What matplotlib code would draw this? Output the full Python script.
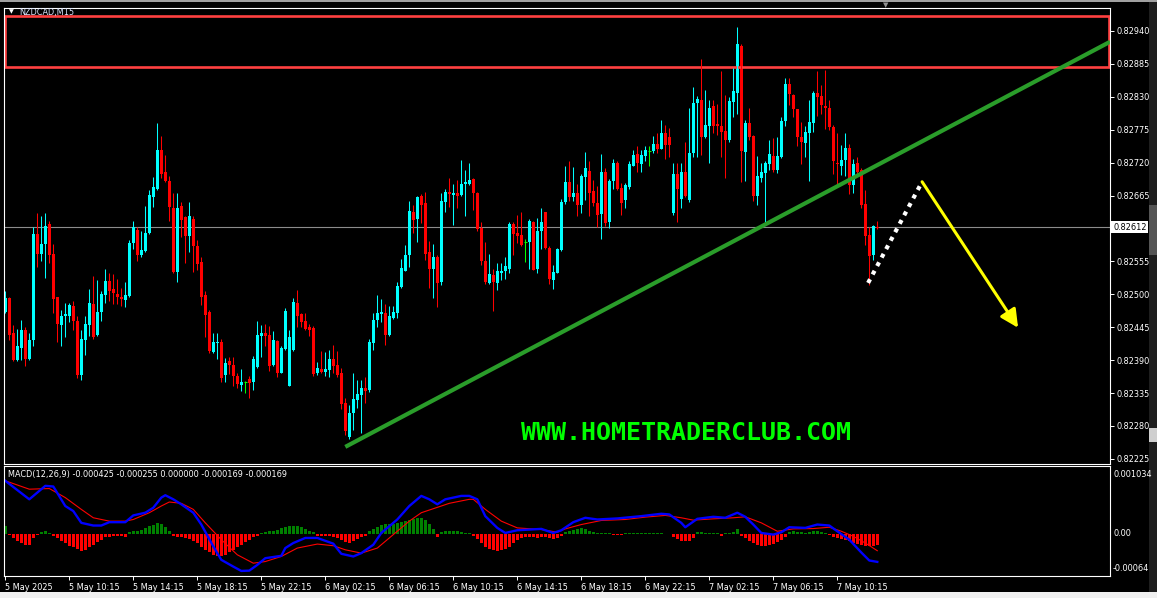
import numpy as np
import matplotlib
matplotlib.use('Agg')
import matplotlib.pyplot as plt
from matplotlib.patches import Rectangle

plt.rcParams['font.family'] = ['DejaVu Sans']

# NZDCAD M15 candles, prices in points (1 point = 0.00001)
open_pts = [
    82470, 82494, 82435, 82391, 82410, 82441, 82392, 82424, 82601, 82568,
    82584, 82618, 82568, 82495, 82449, 82463, 82463, 82481, 82456, 82365,
    82424, 82449, 82484, 82432, 82470, 82499, 82523, 82509, 82501, 82496,
    82491, 82497, 82585, 82608, 82566, 82572, 82602, 82663, 82676, 82741,
    82705, 82690, 82645, 82538, 82647, 82629, 82598, 82626, 82581, 82554,
    82499, 82470, 82404, 82418, 82421, 82365, 82388, 82381, 82364, 82348,
    82353, 82358, 82353, 82379, 82430, 82435, 82432, 82381, 82422, 82369,
    82408, 82347, 82407, 82485, 82467, 82455, 82446, 82444, 82369, 82375,
    82370, 82374, 82392, 82382, 82369, 82319, 82262, 82302, 82324, 82332,
    82344, 82340, 82418, 82457, 82467, 82468, 82432, 82460, 82469, 82513,
    82539, 82566, 82638, 82626, 82664, 82653, 82570, 82542, 82563, 82521,
    82655, 82671, 82666, 82670, 82666, 82684, 82684, 82692, 82670, 82611,
    82556, 82519, 82532, 82519, 82536, 82539, 82542, 82617, 82602, 82599,
    82587, 82588, 82621, 82542, 82605, 82637, 82578, 82524, 82536, 82574,
    82655, 82687, 82663, 82669, 82650, 82696, 82706, 82672, 82652, 82634,
    82705, 82620, 82689, 82720, 82677, 82657, 82679, 82715, 82734, 82718,
    82731, 82740, 82740, 82751, 82743, 82769, 82763, 82636, 82701, 82659,
    82704, 82657, 82736, 82819, 82825, 82763, 82781, 82815, 82785, 82781,
    82773, 82758, 82822, 82837, 82915, 82738, 82787, 82765, 82664, 82695,
    82703, 82718, 82731, 82707, 82730, 82790, 82851, 82833, 82809, 82762,
    82753, 82769, 82787, 82836, 82831, 82815, 82812, 82779, 82720, 82714,
    82724, 82745, 82683, 82719, 82707, 82651, 82599, 82566, 82612]
high_pts = [
    82505, 82496, 82449, 82442, 82457, 82445, 82435, 82612, 82636, 82630,
    82635, 82623, 82584, 82496, 82474, 82485, 82486, 82489, 82464, 82440,
    82464, 82508, 82531, 82524, 82505, 82543, 82535, 82534, 82526, 82511,
    82521, 82591, 82623, 82613, 82606, 82647, 82675, 82696, 82787, 82764,
    82733, 82698, 82670, 82670, 82655, 82631, 82655, 82630, 82590, 82563,
    82505, 82474, 82436, 82436, 82425, 82393, 82396, 82396, 82369, 82375,
    82355, 82363, 82397, 82455, 82449, 82451, 82447, 82439, 82424, 82413,
    82477, 82441, 82493, 82507, 82469, 82469, 82450, 82447, 82387, 82406,
    82403, 82407, 82415, 82406, 82376, 82326, 82315, 82368, 82357, 82357,
    82361, 82425, 82468, 82499, 82492, 82484, 82480, 82480, 82520, 82559,
    82582, 82656, 82649, 82665, 82667, 82671, 82589, 82584, 82565, 82669,
    82676, 82695, 82685, 82691, 82724, 82708, 82720, 82695, 82671, 82621,
    82588, 82567, 82543, 82552, 82552, 82562, 82620, 82621, 82632, 82638,
    82593, 82626, 82623, 82627, 82644, 82638, 82580, 82549, 82577, 82660,
    82714, 82722, 82713, 82685, 82701, 82737, 82722, 82691, 82681, 82735,
    82711, 82692, 82726, 82722, 82686, 82686, 82722, 82741, 82747, 82741,
    82747, 82748, 82764, 82769, 82792, 82783, 82778, 82719, 82719, 82720,
    82755, 82811, 82847, 82831, 82893, 82841, 82824, 82825, 82818, 82873,
    82833, 82829, 82878, 82946, 82918, 82791, 82812, 82767, 82731, 82719,
    82722, 82757, 82761, 82762, 82797, 82861, 82861, 82835, 82810, 82788,
    82781, 82825, 82840, 82873, 82850, 82875, 82824, 82783, 82769, 82749,
    82769, 82751, 82726, 82729, 82711, 82675, 82612, 82616, 82623]
low_pts = [
    82469, 82424, 82388, 82389, 82391, 82380, 82391, 82413, 82545, 82555,
    82528, 82552, 82469, 82420, 82414, 82428, 82453, 82440, 82360, 82356,
    82399, 82431, 82426, 82430, 82455, 82485, 82488, 82484, 82484, 82480,
    82479, 82495, 82575, 82555, 82563, 82570, 82600, 82646, 82675, 82695,
    82688, 82623, 82536, 82521, 82596, 82552, 82570, 82538, 82541, 82482,
    82428, 82402, 82402, 82392, 82353, 82354, 82367, 82347, 82343, 82338,
    82335, 82326, 82340, 82377, 82396, 82413, 82371, 82380, 82362, 82368,
    82407, 82347, 82406, 82446, 82445, 82440, 82430, 82364, 82365, 82368,
    82364, 82362, 82368, 82362, 82309, 82265, 82259, 82273, 82310, 82269,
    82319, 82337, 82407, 82446, 82454, 82415, 82430, 82459, 82460, 82511,
    82539, 82545, 82602, 82588, 82619, 82557, 82510, 82493, 82479, 82515,
    82638, 82646, 82616, 82645, 82665, 82631, 82683, 82641, 82605, 82549,
    82517, 82517, 82472, 82507, 82524, 82525, 82535, 82566, 82585, 82580,
    82554, 82543, 82540, 82536, 82575, 82576, 82518, 82509, 82535, 82573,
    82651, 82656, 82656, 82630, 82636, 82658, 82630, 82648, 82612, 82592,
    82614, 82611, 82676, 82675, 82633, 82644, 82676, 82714, 82705, 82705,
    82722, 82715, 82736, 82736, 82742, 82726, 82730, 82633, 82620, 82644,
    82663, 82655, 82730, 82729, 82733, 82761, 82720, 82769, 82766, 82730,
    82695, 82755, 82796, 82802, 82688, 82690, 82758, 82656, 82649, 82688,
    82621, 82708, 82705, 82703, 82727, 82781, 82816, 82796, 82748, 82718,
    82729, 82690, 82772, 82798, 82801, 82776, 82775, 82701, 82684, 82699,
    82697, 82668, 82670, 82697, 82645, 82582, 82516, 82557, 82609]
close_pts = [
    82494, 82432, 82391, 82413, 82441, 82392, 82424, 82601, 82568, 82584,
    82614, 82566, 82492, 82451, 82464, 82467, 82482, 82455, 82365, 82426,
    82451, 82486, 82428, 82471, 82501, 82523, 82506, 82502, 82495, 82492,
    82499, 82585, 82612, 82566, 82574, 82603, 82666, 82679, 82741, 82701,
    82689, 82646, 82538, 82645, 82624, 82598, 82631, 82581, 82551, 82496,
    82466, 82406, 82421, 82420, 82360, 82386, 82381, 82363, 82350, 82354,
    82353, 82352, 82392, 82432, 82435, 82431, 82380, 82424, 82369, 82411,
    82472, 82428, 82487, 82464, 82454, 82442, 82441, 82367, 82377, 82370,
    82375, 82392, 82380, 82365, 82317, 82272, 82302, 82325, 82333, 82343,
    82339, 82421, 82457, 82468, 82470, 82432, 82463, 82470, 82514, 82544,
    82566, 82639, 82624, 82663, 82649, 82567, 82542, 82562, 82519, 82656,
    82671, 82667, 82670, 82665, 82685, 82687, 82691, 82669, 82609, 82556,
    82521, 82534, 82521, 82539, 82539, 82547, 82617, 82601, 82597, 82582,
    82587, 82622, 82541, 82605, 82621, 82577, 82525, 82538, 82576, 82655,
    82687, 82663, 82669, 82649, 82697, 82711, 82670, 82652, 82633, 82705,
    82619, 82690, 82720, 82676, 82652, 82683, 82718, 82733, 82719, 82733,
    82741, 82740, 82751, 82743, 82769, 82750, 82750, 82701, 82676, 82705,
    82665, 82736, 82820, 82827, 82763, 82783, 82811, 82781, 82781, 82772,
    82757, 82823, 82839, 82918, 82740, 82787, 82762, 82664, 82697, 82705,
    82720, 82734, 82708, 82731, 82790, 82851, 82835, 82809, 82762, 82755,
    82771, 82788, 82837, 82830, 82816, 82812, 82779, 82722, 82718, 82724,
    82745, 82682, 82718, 82705, 82649, 82597, 82564, 82614, 82610]

# MACD(12,26,9), values in units of 1e-6
hist_e6 = [
    118, -20, -61, -102, -143, -169, -169, -61, -20, 31,
    41, 15, -26, -61, -102, -143, -179, -205, -230, -256,
    -241, -205, -169, -128, -92, -51, -41, -31, -31, -31,
    -41, 26, 41, 51, 67, 92, 118, 143, 164, 154,
    113, 51, -26, -41, -51, -61, -77, -102, -143, -195,
    -246, -282, -317, -333, -333, -317, -282, -246, -205, -164,
    -128, -92, -51, -26, 15, 31, 41, 51, 67, 87,
    113, 128, 128, 118, 102, 77, 51, 26, -26, -31,
    -31, -36, -41, -61, -92, -128, -143, -113, -77, -51,
    -26, 41, 77, 113, 143, 154, 154, 154, 164, 179,
    195, 215, 230, 246, 246, 215, 154, 77, -41, 26,
    41, 51, 51, 41, 31, 20, 15, -26, -77, -143,
    -195, -230, -246, -256, -246, -230, -195, -143, -92, -61,
    -51, -51, -41, -61, -51, -41, -61, -77, -61, -26,
    26, 51, 67, 77, 92, 77, 51, 26, 10, 10,
    15, 10, -10, -15, -15, 10, 10, 10, 15, 15,
    15, 10, 10, 10, 10, 5, -5, -51, -77, -102,
    -113, -102, -61, 26, 26, 20, 15, 15, 15, -26,
    10, 15, 26, 77, -26, -61, -102, -143, -169, -179,
    -179, -169, -154, -128, -92, -51, 26, 41, 31, 26,
    15, 31, 41, 41, 31, 15, -20, -41, -61, -77,
    -92, -113, -133, -154, -169, -179, -184, -189, -169]
macd_idx = [0, 6, 10, 12, 15, 17, 19, 22, 24, 26, 30, 32, 35, 37, 39, 40, 42, 44, 47, 49,
            52, 54, 57, 59, 61, 63, 65, 69, 70, 72, 75, 78, 82, 84, 87, 89, 92, 94, 98, 101,
            104, 106, 108, 110, 114, 116, 118, 120, 123, 125, 128, 134, 137, 139, 142, 145,
            148, 153, 159, 164, 166, 169, 170, 173, 177, 180, 183, 185, 187, 189, 192, 194,
            196, 200, 203, 206, 208, 211, 214, 216, 218]
macd_e6 = [809, 527, 732, 722, 425, 348, 169, 128, 128, 179, 179, 282, 323, 399, 553, 589, 527, 451, 323, 143,
           -189, -394, -497, -563, -558, -471, -369, -333, -215, -138, -61, -61, -148, -302, -343, -292, -164, 15, 220, 425,
           579, 527, 451, 527, 579, 579, 527, 271, 92, 15, 56, 77, 15, 56, 179, 246,
           220, 236, 271, 307, 297, 169, 102, 230, 261, 246, 323, 261, 143, 15, -10, 26,
           102, 92, 143, 128, 41, -87, -282, -404, -425]
signal_idx = [0, 6, 11, 15, 19, 22, 26, 30, 32, 36, 39, 41, 44, 47, 50, 54, 58, 62, 65, 69,
              73, 78, 82, 85, 89, 93, 97, 101, 104, 109, 111, 116, 117, 120, 124, 128, 134, 138, 140, 144,
              149, 155, 160, 165, 169, 172, 177, 182, 185, 189, 193, 197, 202, 206, 209, 212, 215, 218]
signal_e6 = [809, 681, 691, 553, 374, 246, 195, 195, 220, 323, 425, 486, 466, 374, 169, -87, -317, -445, -420, -343,
             -215, -154, -179, -241, -292, -215, -10, 195, 323, 425, 466, 527, 527, 374, 195, 92, 67, 26, 77, 143,
             205, 220, 256, 282, 246, 210, 230, 246, 261, 169, 41, 77, 82, 102, 41, -36, -138, -255]

price_ticks = [0.82940, 0.82885, 0.82830, 0.82775, 0.82720, 0.82665, 0.82555,
               0.82500, 0.82445, 0.82390, 0.82335, 0.82280, 0.82225]
last_price = 0.82612
time_labels = ['5 May 2025', '5 May 10:15', '5 May 14:15', '5 May 18:15', '5 May 22:15',
               '6 May 02:15', '6 May 06:15', '6 May 10:15', '6 May 14:15', '6 May 18:15',
               '6 May 22:15', '7 May 02:15', '7 May 06:15', '7 May 10:15']
bars_per_label = 16

# drawn objects (bar index, price)
zone_bars, zone_prices = (-0.1, 276.0), (0.82880, 0.82965)
trend_bars, trend_prices = (85, 276.2), (0.82245, 0.82922)
dots_bars, dots_prices = (215.7, 229.2), (0.82519, 0.82688)
arrow_bars, arrow_prices = (229.2, 253.2), (0.82688, 0.82444)
site_text = 'WWW.HOMETRADERCLUB.COM'
macd_title = 'MACD(12,26,9) -0.000425 -0.000255 0.000000 -0.000169 -0.000169'

o = np.array(open_pts) / 1e5
h = np.array(high_pts) / 1e5
l = np.array(low_pts) / 1e5
c = np.array(close_pts) / 1e5
x = np.arange(len(o))
hist = np.array(hist_e6) * 1e-6

W, H = 1157, 598
fs = 5.9
fig = plt.figure(figsize=(W / 100, H / 100), dpi=100, facecolor='black')


def px_axes(left, top, right, bottom):
    return fig.add_axes([left / W, 1 - bottom / H, (right - left) / W, (bottom - top) / H])


# window frame pieces, kept under the panes
fig.patches.append(Rectangle((0, 0), 1, 6 / H, transform=fig.transFigure, fc='#f0f0f0', ec='none', zorder=-2))
fig.patches.append(Rectangle((1149 / W, 6 / H), 8 / W, 1, transform=fig.transFigure, fc='#1e1e1e', ec='none', zorder=-2))
fig.patches.append(Rectangle((1149 / W, 1 - 255 / H), 8 / W, 50 / H, transform=fig.transFigure, fc='#555555', ec='none', zorder=-2))
fig.patches.append(Rectangle((1149 / W, 1 - 442 / H), 8 / W, 14 / H, transform=fig.transFigure, fc='#cfcfcf', ec='none', zorder=-2))
fig.patches.append(Rectangle((0, 1 - 1.5 / H), 1, 1.5 / H, transform=fig.transFigure, fc='#a0a0a0', ec='none', zorder=-2))

ax = px_axes(4, 8, 1110, 464)
ax2 = px_axes(4, 466, 1110, 576)
for a in (ax, ax2):
    a.set_facecolor('black')
    for s in a.spines.values():
        s.set_color('white')
        s.set_linewidth(0.8)
    a.set_xlim(-0.325, 276.175)

# candles
up_col, dn_col, doji_col = '#00ffff', '#ff0000', '#00ff00'
cols = np.where(c > o, up_col, np.where(c < o, dn_col, doji_col))
ax.vlines(x, l, h, colors=cols, linewidth=0.75)
body = c != o
bot = np.minimum(o, c)[body]
hgt = np.maximum(np.abs(c - o)[body], 1.2e-5)
ax.bar(x[body], hgt, bottom=bot, width=0.74, color=cols[body], linewidth=0)
ax.hlines(o[~body], x[~body] - 0.4, x[~body] + 0.4, colors=doji_col, linewidth=0.75)

ax.axhline(last_price, color='#8c8c8c', lw=0.8, zorder=0.5)
ax.set_ylim(0.822164, 0.829784)

ax.add_patch(Rectangle((zone_bars[0], zone_prices[0]), zone_bars[1] - zone_bars[0],
                       zone_prices[1] - zone_prices[0], fill=False, ec='#ff4040', lw=1.9))
ax.plot(trend_bars, trend_prices, color='#2a9d2a', lw=3.0, solid_capstyle='butt')
ax.plot(dots_bars, dots_prices, color='white', lw=3.0, linestyle=(0, (1.0, 1.3)))
ax.annotate('', xy=(arrow_bars[1], arrow_prices[1]), xytext=(arrow_bars[0], arrow_prices[0]),
            arrowprops=dict(arrowstyle='-|>,head_length=0.9,head_width=0.45', color='#ffff00',
                            lw=2.2, shrinkA=0, shrinkB=0, mutation_scale=12))
ax.text(170.2, 0.82268, site_text, color='#00ff00', fontsize=18, fontweight='bold',
        family='DejaVu Sans Mono', ha='center', va='center')

ax.yaxis.tick_right()
ax.set_yticks(price_ticks)
ax.set_yticklabels(['%.5f' % p for p in price_ticks])
ax.tick_params(axis='y', colors='white', labelsize=fs, length=3, width=0.7, pad=1.5)
ax.tick_params(axis='x', bottom=False, labelbottom=False)
ax.text(1.0 + 3 / 1106, last_price, '%.5f' % last_price, transform=ax.get_yaxis_transform(),
        ha='left', va='center', fontsize=fs, color='black', clip_on=False,
        bbox=dict(boxstyle='square,pad=0.2', fc='white', ec='none'))

# MACD pane
ax2.bar(x, hist, width=0.74, color=np.where(hist >= 0, '#008000', '#ff0000'), linewidth=0)
ax2.plot(signal_idx, np.array(signal_e6) * 1e-6, color='#ff0000', lw=0.8)
ax2.plot(macd_idx, np.array(macd_e6) * 1e-6, color='#0000ff', lw=1.7)
ax2.set_ylim(-0.00064, 0.001034)
ax2.set_yticks([])
ax2.text(0.0036, 0.925, macd_title, transform=ax2.transAxes, color='white', fontsize=fs, va='center')
for yy, lab in ((0.925, '0.001034'), (0.385, '0.00'), (0.07, '-0.00064')):
    ax2.text(1.0 + 3 / 1106, yy, lab, transform=ax2.transAxes, color='white', fontsize=fs,
             va='center', ha='left', clip_on=False)
ticks = np.arange(len(time_labels)) * bars_per_label
ax2.set_xticks(ticks)
ax2.set_xticklabels(time_labels, ha='left')
ax2.tick_params(axis='x', colors='white', labelsize=fs, length=3, width=0.7, pad=2)

# chart caption and markers
fig.text(19 / W, 1 - 12 / H, 'NZDCAD,M15', color='#dde6ff', fontsize=fs, va='center')
fig.text(9 / W, 1 - 12 / H, '\u25bc', color='white', fontsize=4.5, va='center')
fig.text(886 / W, 1 - 5 / H, '\u25bc', color='#909090', fontsize=5, va='center', ha='center')

fig.savefig('out.png', dpi=100, facecolor='black')
